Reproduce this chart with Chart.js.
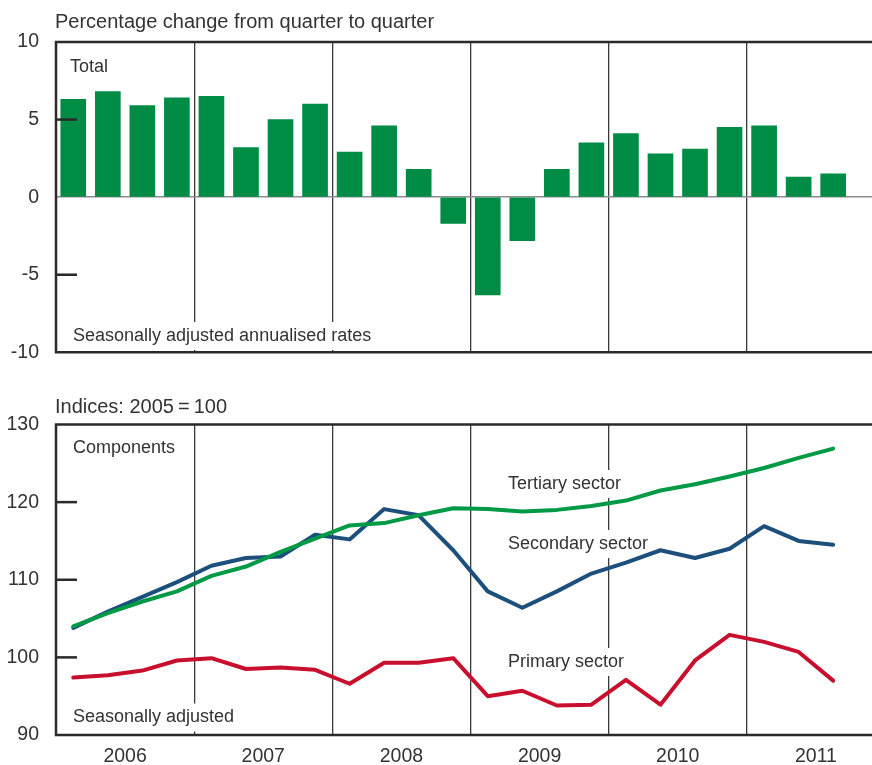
<!DOCTYPE html>
<html>
<head>
<meta charset="utf-8">
<script src="https://cdn.jsdelivr.net/npm/chart.js@4.4.1/dist/chart.umd.min.js"></script>
<style>
  html, body { margin: 0; padding: 0; background: #fff; overflow: hidden; width: 872px; height: 765px; }
  #topChart { position: absolute; left: 0; top: 0; }
  #bottomChart { position: absolute; left: 0; top: 380px; }
</style>
</head>
<body>
<canvas id="topChart" width="890" height="381"></canvas>
<canvas id="bottomChart" width="890" height="385"></canvas>
<script>
// data

const quarters = [
  '2006Q1', '2006Q2', '2006Q3', '2006Q4',
  '2007Q1', '2007Q2', '2007Q3', '2007Q4',
  '2008Q1', '2008Q2', '2008Q3', '2008Q4',
  '2009Q1', '2009Q2', '2009Q3', '2009Q4',
  '2010Q1', '2010Q2', '2010Q3', '2010Q4',
  '2011Q1', '2011Q2', '2011Q3', '2011Q4'
];
const years = ['2006', '2007', '2008', '2009', '2010', '2011'];

// total, % change q/q, seasonally adjusted annualised
const totalChange = [6.3, 6.8, 5.9, 6.4, 6.5, 3.2, 5.0, 6.0, 2.9, 4.6, 1.8, -1.7,
  -6.3, -2.8, 1.8, 3.5, 4.1, 2.8, 3.1, 4.5, 4.6, 1.3, 1.5];

// components, indices 2005 = 100
const tertiary = [104.0, 105.7, 107.2, 108.5, 110.5, 111.7, 113.6, 115.3, 117.0, 117.3, 118.3, 119.2,
  119.1, 118.8, 119.0, 119.5, 120.2, 121.5, 122.3, 123.3, 124.4, 125.7, 126.9];
const secondary = [103.8, 105.9, 107.8, 109.7, 111.8, 112.8, 113.0, 115.8, 115.2, 119.1, 118.3, 113.8,
  108.5, 106.4, 108.5, 110.8, 112.2, 113.8, 112.8, 114.0, 116.9, 115.0, 114.5];
const primary = [97.4, 97.7, 98.3, 99.6, 99.9, 98.5, 98.7, 98.4, 96.6, 99.3, 99.3, 99.9,
  95.0, 95.7, 93.8, 93.9, 97.1, 93.9, 99.6, 102.9, 102.0, 100.7, 97.0];

const topTicks = [-10, -5, 0, 5, 10];
const bottomTicks = [90, 100, 110, 120, 130];

// styling

const FONT = '"Liberation Sans", Arial, sans-serif';
const TEXT = '#333';
const FRAME = '#2a2a2a';
Chart.defaults.font.family = FONT;
Chart.defaults.color = TEXT;

// frame, inward tick marks, notes and heading drawn on top of the library's scales
function decorPlugin(cfg) {
  return {
    id: 'decor',
    beforeDatasetsDraw(chart) {
      const { ctx, chartArea: a } = chart;
      ctx.save();
      ctx.font = '18px ' + FONT;
      ctx.textBaseline = 'middle';
      cfg.notes.forEach(n => {
        const x = a.left + n.dx, y = a.top + n.dy;
        const w = ctx.measureText(n.text).width;
        ctx.fillStyle = '#fff';
        ctx.fillRect(x - 3, y - 14, w + 6, 28);
        ctx.fillStyle = TEXT;
        ctx.fillText(n.text, x, y);
      });
      ctx.restore();
    },
    afterDatasetsDraw(chart) {
      const { ctx, chartArea: a, scales } = chart;
      ctx.save();
      ctx.strokeStyle = FRAME;
      ctx.lineWidth = 2.5;
      ctx.lineJoin = 'miter';
      ctx.beginPath();
      ctx.moveTo(a.right + 10, a.top);
      ctx.lineTo(a.left, a.top);
      ctx.lineTo(a.left, a.bottom);
      ctx.lineTo(a.right + 10, a.bottom);
      ctx.stroke();
      cfg.innerTicks.forEach(v => {
        const y = scales.y.getPixelForValue(v);
        ctx.beginPath();
        ctx.moveTo(a.left, y);
        ctx.lineTo(a.left + 21, y);
        ctx.stroke();
      });
      ctx.restore();
    },
    afterDraw(chart) {
      const { ctx } = chart;
      ctx.save();
      ctx.font = '20px ' + FONT;
      ctx.fillStyle = TEXT;
      ctx.textBaseline = 'middle';
      ctx.fillText(cfg.heading, 55, cfg.headingY);
      ctx.restore();
    }
  };
}

const yearGrid = {
  offset: true,
  drawTicks: false,
  lineWidth: 1.3,
  color: c => (c.index > 0 && c.index % 4 === 0) ? '#3a3a3a' : 'rgba(0,0,0,0)'
};

// bar chart

const topChart = new Chart(document.getElementById('topChart'), {
  type: 'bar',
  data: {
    labels: quarters,
    datasets: [{
      label: 'Total',
      data: totalChange,
      backgroundColor: '#008c44',
      borderWidth: 0,
      barThickness: 25
    }]
  },
  options: {
    responsive: false,
    animation: false,
    layout: { padding: { top: 42, bottom: 13, left: 0, right: 5 } },
    plugins: { legend: { display: false }, tooltip: { enabled: false } },
    scales: {
      x: {
        grid: yearGrid,
        border: { display: false },
        ticks: { display: false },
        afterFit: s => { s.height = 0; }
      },
      y: {
        min: -10,
        max: 10,
        afterBuildTicks: s => { s.ticks = topTicks.map(v => ({ value: v })); },
        grid: {
          drawTicks: false,
          lineWidth: 1.6,
          color: c => c.tick.value === 0 ? '#8c8c8c' : 'rgba(0,0,0,0)'
        },
        border: { display: false },
        ticks: { padding: 17, font: { size: 19.5 }, color: TEXT },
        afterFit: s => { s.width = 56; }
      }
    }
  },
  plugins: [decorPlugin({
    heading: 'Percentage change from quarter to quarter',
    headingY: 22,
    innerTicks: [5, -5],
    notes: [
      { text: 'Total', dx: 14, dy: 25 },
      { text: 'Seasonally adjusted annualised rates', dx: 17, dy: 294 }
    ]
  })]
});

// line chart

const lineStyle = {
  borderWidth: 4,
  pointRadius: 0,
  tension: 0,
  fill: false,
  borderCapStyle: 'round',
  borderJoinStyle: 'round'
};

const bottomChart = new Chart(document.getElementById('bottomChart'), {
  type: 'line',
  data: {
    labels: quarters,
    datasets: [
      Object.assign({ label: 'Primary sector', data: primary, borderColor: '#c8102e' }, lineStyle),
      Object.assign({ label: 'Tertiary sector', data: tertiary, borderColor: '#009a46' }, lineStyle),
      Object.assign({ label: 'Secondary sector', data: secondary, borderColor: '#1d4f7c' }, lineStyle)
    ]
  },
  options: {
    responsive: false,
    animation: false,
    layout: { padding: { top: 44.5, bottom: 0, left: 0, right: 5 } },
    plugins: { legend: { display: false }, tooltip: { enabled: false } },
    scales: {
      x: {
        offset: true,
        weight: 0,
        grid: yearGrid,
        border: { display: false },
        ticks: { display: false },
        afterFit: s => { s.height = 0; }
      },
      xYear: {
        type: 'category',
        labels: years,
        position: 'bottom',
        offset: true,
        weight: 1,
        grid: { display: false, drawTicks: false },
        border: { display: false },
        ticks: { padding: 10, font: { size: 19.5 }, color: TEXT, maxRotation: 0 },
        afterFit: s => { s.height = 30; }
      },
      y: {
        min: 90,
        max: 130,
        afterBuildTicks: s => { s.ticks = bottomTicks.map(v => ({ value: v })); },
        grid: { display: false, drawTicks: false },
        border: { display: false },
        ticks: { padding: 17, font: { size: 19.5 }, color: TEXT },
        afterFit: s => { s.width = 56; }
      }
    }
  },
  plugins: [decorPlugin({
    heading: 'Indices: 2005\u2009=\u2009100',
    headingY: 27,
    innerTicks: [100, 110, 120],
    notes: [
      { text: 'Components', dx: 17, dy: 23.5 },
      { text: 'Seasonally adjusted', dx: 17, dy: 293 },
      { text: 'Tertiary sector', dx: 452, dy: 59.5 },
      { text: 'Secondary sector', dx: 452, dy: 119.5 },
      { text: 'Primary sector', dx: 452, dy: 237.5 }
    ]
  })]
});
</script>
</body>
</html>
